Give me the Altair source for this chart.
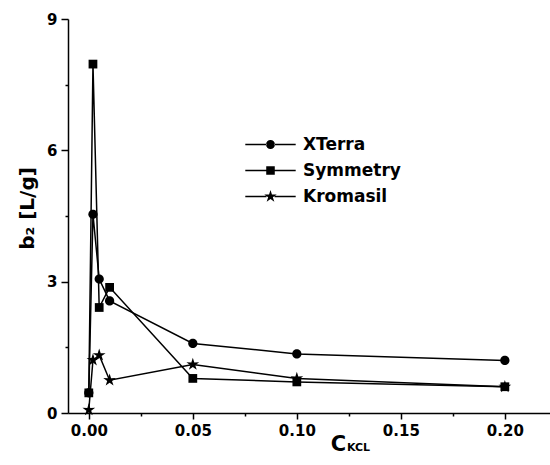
import altair as alt
import pandas as pd

# ---- data ----
c_kcl = [0.0, 0.002, 0.005, 0.01, 0.05, 0.10, 0.20]
xterra = [0.46, 4.54, 3.06, 2.56, 1.59, 1.35, 1.20]
symmetry = [0.46, 7.97, 2.41, 2.87, 0.79, 0.71, 0.60]
kromasil = [0.07, 1.21, 1.32, 0.75, 1.11, 0.79, 0.60]
series_names = ["XTerra", "Symmetry", "Kromasil"]
x_ticks = [0.0, 0.025, 0.05, 0.075, 0.10, 0.125, 0.15, 0.175, 0.20]
y_ticks = [0, 1.5, 3, 4.5, 6, 7.5, 9]

rows = []
for name, vals in zip(series_names, [xterra, symmetry, kromasil]):
    for x, y in zip(c_kcl, vals):
        rows.append({"series": name, "c": x, "b2": y})
df = pd.DataFrame(rows)

FONT = "DejaVu Sans"

# marker paths (unit space)
circle = "M-1,0A1,1 0 1,0 1,0A1,1 0 1,0 -1,0Z"
square = "M-0.95,-0.95H0.95V0.95H-0.95Z"
star = ("M0,-1.45L0.32,-0.44L1.38,-0.45L0.52,0.17L0.85,1.17L0,0.55"
        "L-0.85,1.17L-0.52,0.17L-1.38,-0.45L-0.32,-0.44Z")
marker_paths = [circle, square, star]
bars = "M-5.6,-0.17H-0.9V0.17H-5.6ZM0.9,-0.17H5.6V0.17H0.9Z"
legend_paths = [bars + circle, bars + square, bars + star]

x_scale = alt.Scale(domain=[-0.01, 0.2217], nice=False, zero=False)
y_scale = alt.Scale(domain=[0, 9], nice=False, zero=False)

x_axis = alt.Axis(
    values=x_ticks,
    labelExpr="round(datum.value*1000) % 50 == 0 ? format(datum.value, '.2f') : ''",
    tickSize={"condition": {"test": "round(datum.value*1000) % 50 == 0", "value": 6}, "value": 3},
    title="C",
    titleX=270, titleY=37, titleAlign="center", titleBaseline="alphabetic",
    titleFontSize=21,
    labelPadding=4,
    grid=False,
)
y_axis = alt.Axis(
    values=y_ticks,
    labelExpr="round(datum.value*10) % 30 == 0 ? format(datum.value, 'd') : ''",
    tickSize={"condition": {"test": "round(datum.value*10) % 30 == 0", "value": 7}, "value": 3},
    title="b₂ [L/g]",
    titleX=-35, titleY=189, titleAlign="center", titleBaseline="alphabetic",
    titleFontSize=20,
    labelPadding=4,
    grid=False,
)

base = alt.Chart(df)

lines = base.mark_line(color="black", strokeWidth=1.5).encode(
    x=alt.X("c:Q", scale=x_scale, axis=x_axis),
    y=alt.Y("b2:Q", scale=y_scale, axis=y_axis),
    detail="series:N",
)

points = base.mark_point(filled=True, color="black", opacity=1, size=85).encode(
    x=alt.X("c:Q", scale=x_scale),
    y=alt.Y("b2:Q", scale=y_scale),
    shape=alt.Shape("series:N", scale=alt.Scale(domain=series_names, range=marker_paths), legend=None),
)

legend_layer = base.transform_filter("datum.c < -1").mark_point(
    filled=True, color="black", opacity=1, size=81
).encode(
    x=alt.X("c:Q", scale=x_scale),
    y=alt.Y("b2:Q", scale=y_scale),
    shape=alt.Shape(
        "series:N",
        scale=alt.Scale(domain=series_names, range=legend_paths),
        legend=alt.Legend(
            title=None, orient="none", legendX=194, legendY=117,
            labelFontSize=17, labelFont=FONT, labelFontWeight="bold",
            labelOffset=24, rowPadding=8, padding=0,
            symbolFillColor="black", symbolStrokeWidth=0,
            symbolOpacity=1, symbolSize=81,
        ),
    ),
)

kcl = alt.Chart(pd.DataFrame({"t": ["KCL"]})).mark_text(
    font=FONT, fontWeight="bold", fontSize=11, align="left", baseline="alphabetic", color="black"
).encode(text="t:N", x=alt.value(279), y=alt.value(432))

chart = (
    alt.layer(lines, points, legend_layer, kcl)
    .resolve_scale(shape="independent")
    .properties(
        width=482, height=394,
        autosize=alt.AutoSizeParams(type="none"),
        padding={"left": 68, "top": 19, "right": 0, "bottom": 52},
        background="white",
    )
    .configure_view(stroke=None)
    .configure_axis(
        domainColor="black", domainWidth=1.5, tickColor="black", tickWidth=1.5,
        labelFont=FONT, labelFontWeight="bold", labelFontSize=15, labelColor="black",
        titleFont=FONT, titleFontWeight="bold", titleColor="black",
        labelOverlap=False,
    )
)

chart.save("out.html", embed_options={"renderer": "svg", "actions": False})
